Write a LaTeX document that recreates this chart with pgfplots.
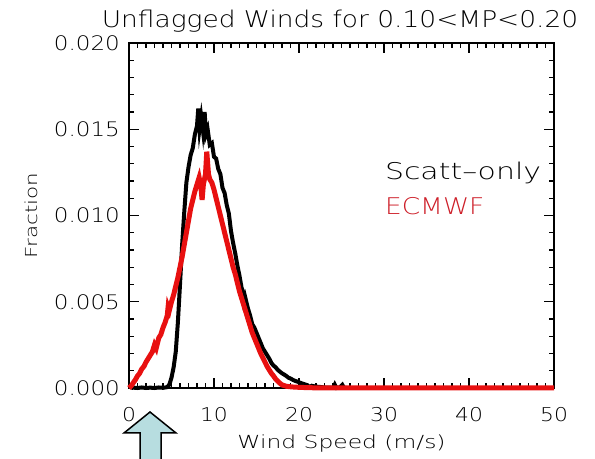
\documentclass[border=0pt]{standalone}
\usepackage{fontspec}
\setmainfont[FakeStretch=1.15]{DejaVu Sans ExtraLight}
\newfontfamily\widefont[FakeStretch=1.3]{DejaVu Sans ExtraLight}
\usepackage{pgfplots}
\pgfplotsset{compat=1.18}
\definecolor{arrowfill}{RGB}{183,221,224}
\definecolor{idlred}{RGB}{232,16,16}
\definecolor{labelred}{RGB}{205,30,40}

\begin{document}
\begin{tikzpicture}[x=1bp,y=1bp]
\useasboundingbox (0,0) rectangle (595,459);
\begin{axis}[
  at={(129bp,71bp)}, anchor=south west,
  scale only axis, width=425bp, height=345bp,
  xmin=0, xmax=50, ymin=0, ymax=0.02,
  clip=false,
  axis line style={line width=1.4bp},
  xtick={0,10,20,30,40,50},
  ytick={0,0.005,0.010,0.015,0.020},
  minor x tick num=9, minor y tick num=4,
  tick align=inside,
  major tick length=10bp, minor tick length=5bp,
  every tick/.style={black, line width=1.1bp},
  /pgf/number format/assume math mode=true,
  yticklabel style={/pgf/number format/fixed, /pgf/number format/fixed zerofill,
    /pgf/number format/precision=3, font=\fontsize{20bp}{24bp}\selectfont,
    anchor=east, inner sep=0pt, xshift=-9bp},
  xticklabel style={font=\fontsize{19bp}{23bp}\selectfont,
    anchor=center, inner sep=0pt, yshift=-27bp},
  scaled y ticks=false,
  every axis x label/.style={at={(axis description cs:0.5,-0.1623)}, anchor=center,
    font=\widefont\fontsize{18bp}{22bp}\selectfont},
  every axis y label/.style={at={(axis description cs:-0.2306,0.5)}, rotate=90, anchor=center,
    font=\widefont\fontsize{16.5bp}{20bp}\selectfont},
  every axis title/.style={at={(axis description cs:0.4965,1.0638)}, anchor=center,
    font=\fontsize{23bp}{27bp}\selectfont},
  title={Unflagged Winds for 0.10<MP<0.20},
  xlabel={Wind Speed (m/s)},
  ylabel={Fraction},
]
% Scatt-only histogram
\addplot[black, line width=4bp, line join=miter] coordinates {
(0.25,0) (0.5,0.00002) (1.0,0) (1.5,0.00003) (2.0,0) (2.5,0.00002) (3.0,0) (3.5,0.00003)
(4.0,0.00001) (4.5,0.00005) (4.75,0.0002) (5.0,0.0006) (5.25,0.0012) (5.5,0.0021)
(5.75,0.0038) (6.0,0.0060) (6.25,0.0083) (6.5,0.0102) (6.75,0.0119) (7.0,0.0128)
(7.25,0.0135) (7.5,0.0139) (7.75,0.0147) (8.0,0.0152) (8.15,0.0162) (8.3,0.0150)
(8.5,0.0157) (8.7,0.0149) (8.9,0.0160) (9.05,0.0147) (9.25,0.0150) (9.5,0.0141)
(9.75,0.0142) (10.0,0.0134) (10.25,0.0133) (10.5,0.0127) (10.75,0.0124) (11.0,0.0116)
(11.25,0.0113) (11.5,0.0106) (11.75,0.0101) (12.0,0.0091) (12.25,0.0084) (12.5,0.0078)
(12.75,0.0071) (13.0,0.0065) (13.25,0.0058) (13.5,0.0055) (13.6,0.0045) (13.75,0.0051)
(14.0,0.0046) (14.25,0.0042) (14.5,0.0037) (14.75,0.0035) (15.0,0.0032) (15.25,0.0029)
(15.5,0.0026) (15.75,0.0023) (16.0,0.0021) (16.25,0.0019) (16.5,0.0017) (16.75,0.00145)
(17.0,0.0013) (17.25,0.0012) (17.5,0.00105) (17.75,0.00095) (18.0,0.00085) (18.25,0.00078)
(18.5,0.0007) (18.75,0.0006) (19.0,0.00055) (19.25,0.00048) (19.5,0.00042) (19.75,0.00038)
(20.0,0.00033) (20.5,0.00024) (21.0,0.00016) (21.25,0.00005) (21.5,0.00013) (22.0,0.00008)
(22.5,0.00006) (23.0,0.00003) (23.5,0.00002) (24.0,0.00001) (24.2,0.0002) (24.4,0)
(24.8,0.00003) (25.1,0.00018) (25.3,0) (25.6,0)
};
% ECMWF histogram
\addplot[idlred, line width=5bp, line join=miter] coordinates {
(0,0) (0.25,0.00012) (0.5,0.0003) (0.75,0.00048) (1.0,0.0007) (1.25,0.00085) (1.5,0.0011)
(1.75,0.00125) (2.0,0.0015) (2.25,0.0017) (2.5,0.0019) (2.75,0.0021) (3.0,0.0025)
(3.2,0.0023) (3.5,0.0029) (3.75,0.0031) (4.0,0.0035) (4.25,0.0038) (4.5,0.0042)
(4.6,0.0047) (4.75,0.0045) (5.0,0.0050) (5.25,0.0054) (5.5,0.0059) (5.75,0.0064)
(6.0,0.0070) (6.25,0.0076) (6.5,0.0083) (6.75,0.0090) (7.0,0.0097) (7.25,0.0104)
(7.5,0.0109) (7.75,0.0114) (8.0,0.0118) (8.25,0.0122) (8.45,0.0117) (8.6,0.0109)
(8.75,0.0118) (9.0,0.0124) (9.15,0.0137) (9.35,0.0124) (9.5,0.0121) (9.75,0.0119)
(10.0,0.0115) (10.25,0.0110) (10.5,0.0105) (10.75,0.0100) (11.0,0.0095) (11.25,0.0090)
(11.5,0.0085) (11.75,0.0080) (12.0,0.0075) (12.25,0.0070) (12.5,0.0066) (12.75,0.0061)
(13.0,0.0056) (13.25,0.0052) (13.5,0.0048) (13.75,0.0044) (14.0,0.0040) (14.25,0.0036)
(14.5,0.0032) (14.75,0.0029) (15.0,0.0026) (15.25,0.0023) (15.5,0.0020) (15.75,0.00175)
(16.0,0.0015) (16.25,0.00125) (16.5,0.00105) (16.75,0.00085) (17.0,0.0007) (17.25,0.00052)
(17.5,0.0004) (17.75,0.00028) (18.0,0.00018) (18.5,0.0001) (19.0,0.00007) (19.5,0.00005)
(20.0,0.00004) (21.0,0.00002) (22.0,0.00001) (23.0,0) (50,0)
};
% series labels
\node[anchor=base west, inner sep=0pt, font=\widefont\fontsize{23bp}{27bp}\selectfont, text=black]
  at (axis cs:30.1,0.01206) {Scatt–only};
\node[anchor=base west, inner sep=0pt, font=\fontsize{23bp}{27bp}\selectfont, text=labelred]
  at (axis cs:30.1,0.01003) {ECMWF};
\end{axis}
% block arrow under the axis
\draw[line width=1.5bp, fill=arrowfill, line join=miter]
  (150,47) -- (176,26) -- (161,26) -- (161,-5) -- (140,-5) -- (140,26) -- (124,26) -- cycle;
\end{tikzpicture}
\end{document}
